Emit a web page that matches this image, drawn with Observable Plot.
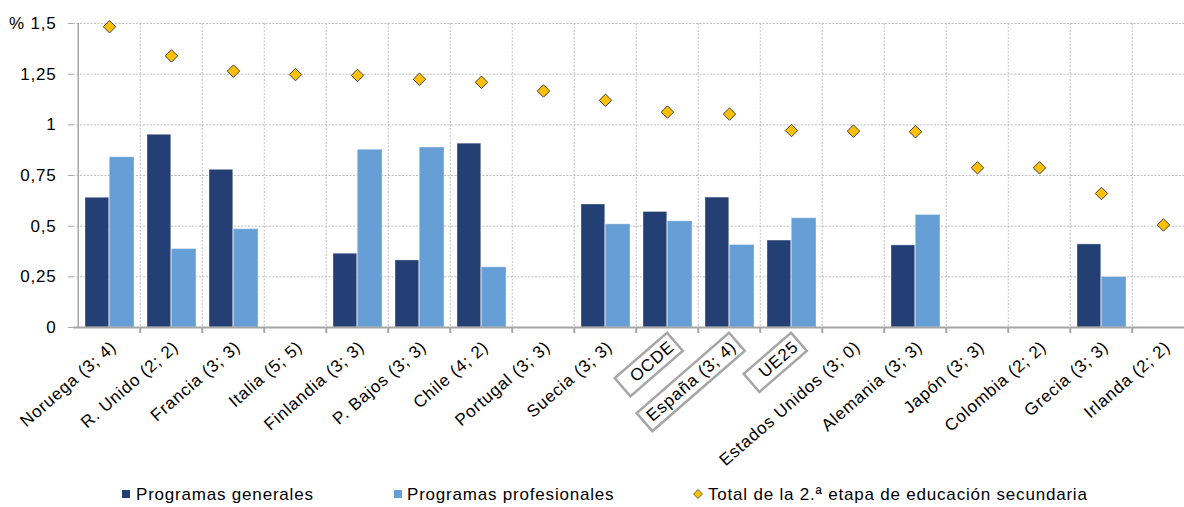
<!DOCTYPE html>
<html><head><meta charset="utf-8">
<script src="https://cdn.jsdelivr.net/npm/d3@7"></script>
<script src="https://cdn.jsdelivr.net/npm/@observablehq/plot@0.6"></script>
<style>
html,body{margin:0;padding:0;background:#fff;overflow:hidden;width:1184px;height:507px}
#legend{position:relative;height:27px;font-family:"Liberation Sans",Arial,sans-serif;font-size:17px;letter-spacing:0.8px;color:#000}
#legend .it{position:absolute;top:1px;line-height:27px;white-space:nowrap}
#legend .sw{position:absolute;top:10px;width:8px;height:8px}
</style></head><body><div id="chart"></div><div id="legend"></div>
<script>
const countries = ["Noruega (3; 4)", "R. Unido (2; 2)", "Francia (3; 3)", "Italia (5; 5)", "Finlandia (3; 3)", "P. Bajos (3; 3)", "Chile (4; 2)", "Portugal (3; 3)", "Suecia (3; 3)", "OCDE", "España (3; 4)", "UE25", "Estados Unidos (3; 0)", "Alemania (3; 3)", "Japón (3; 3)", "Colombia (2; 2)", "Grecia (3; 3)", "Irlanda (2; 2)"];
const general = [0.64, 0.951, 0.778, null, 0.364, 0.331, 0.907, null, 0.607, 0.570, 0.641, 0.429, null, 0.405, null, null, 0.410, null];
const profesional = [0.84, 0.387, 0.485, null, 0.877, 0.888, 0.297, null, 0.509, 0.524, 0.407, 0.539, null, 0.555, null, null, 0.249, null];
const total = [1.484, 1.34, 1.265, 1.248, 1.244, 1.225, 1.21, 1.167, 1.121, 1.063, 1.053, 0.972, 0.969, 0.966, 0.788, 0.788, 0.661, 0.506];
const yTicks = [0, 0.25, 0.5, 0.75, 1, 1.25, 1.5];
const seriesNames = ["Programas generales", "Programas profesionales", "Total de la 2.ª etapa de educación secundaria"];
const boxedLabels = ["OCDE", "España (3; 4)", "UE25"];

const colGeneral = "#243F74", colProf = "#659FD5", colTotal = "#FFC000", colTotalStroke = "#404040";
const gridColor = "#BFBFBF", axisColor = "#A6A6A6";

const rows = countries.map((c, i) => ({country: c, general: general[i], profesional: profesional[i], total: total[i]}));
const xRange = [73, 1198];
const bw = (xRange[1] - xRange[0]) / countries.length;

const chart = Plot.plot({
  width: 1184,
  height: 480,
  marginLeft: 73,
  marginRight: 0,
  marginTop: 23,
  marginBottom: 153,
  style: {fontFamily: '"Liberation Sans", Arial, sans-serif', fontSize: "17px", letterSpacing: "0.8px", background: "white", color: "#000"},
  x: {domain: countries, range: xRange, padding: 0, axis: null},
  y: {domain: [0, 1.5]},
  marks: [
    Plot.ruleY(yTicks.slice(1), {stroke: gridColor, strokeDasharray: "2,1.5", strokeWidth: 1}),
    Plot.ruleX(countries.slice(1), {x: d => d, dx: -bw / 2, stroke: gridColor, strokeDasharray: "2,1.5", strokeWidth: 1}),
    Plot.barY(rows.filter(d => d.general != null), {x: "country", y: "general", fill: colGeneral, insetLeft: 7, insetRight: bw / 2, stroke: "#ffffff", strokeOpacity: 0.35, strokeWidth: 1}),
    Plot.barY(rows.filter(d => d.profesional != null), {x: "country", y: "profesional", fill: colProf, insetLeft: bw / 2, insetRight: 6, stroke: "#ffffff", strokeOpacity: 0.35, strokeWidth: 1}),
    Plot.ruleX([countries[0]], {x: d => d, dx: -bw / 2, stroke: axisColor, strokeWidth: 1.5}),
    Plot.ruleX(countries.slice(1), {x: d => d, dx: -bw / 2, y1: 0, y2: 0, insetBottom: -6, stroke: axisColor, strokeWidth: 2}),
    Plot.ruleY([0], {stroke: axisColor, strokeWidth: 2}),
    Plot.axisY(yTicks, {tickFormat: d => d === 1.5 ? "% 1,5" : String(d).replace(".", ","), tickSize: 5, tickPadding: 12, stroke: axisColor, fill: "#000", fontSize: 17}),
    Plot.dot(rows, {x: "country", y: "total", symbol: "diamond2", r: 5.6, fill: colTotal, stroke: colTotalStroke, strokeWidth: 1}),
    Plot.text(countries, {x: d => d, frameAnchor: "bottom", textAnchor: "end", rotate: -41, dx: 8, dy: 21, fontSize: 17, fill: "#000"})
  ]
});
document.getElementById("chart").appendChild(chart);

// boxes around highlighted labels
chart.querySelectorAll("text").forEach(t => {
  const s = t.textContent;
  const tr = t.getAttribute("transform") || "";
  if (!boxedLabels.includes(s) || !tr.includes("rotate")) return;
  const bb = t.getBBox();
  const padStart = s.length < 6 ? 13 : 6, padEnd = 4, padY = 2.5;
  const r = document.createElementNS("http://www.w3.org/2000/svg", "rect");
  r.setAttribute("x", bb.x - padStart);
  r.setAttribute("y", bb.y - padY);
  r.setAttribute("width", bb.width + padStart + padEnd);
  r.setAttribute("height", bb.height + 2 * padY);
  r.setAttribute("fill", "white");
  r.setAttribute("stroke", axisColor);
  r.setAttribute("stroke-width", 2.5);
  r.setAttribute("transform", tr);
  t.parentNode.insertBefore(r, t);
});

// legend
const legend = document.getElementById("legend");
const legendItems = [
  {name: seriesNames[0], kind: "square", color: colGeneral, swLeft: 122, textLeft: 136},
  {name: seriesNames[1], kind: "square", color: colProf, swLeft: 394, textLeft: 407},
  {name: seriesNames[2], kind: "diamond", color: colTotal, swLeft: 692, textLeft: 708}
];
legendItems.forEach(it => {
  if (it.kind === "square") {
    const s = document.createElement("div");
    s.className = "sw";
    s.style.left = it.swLeft + "px";
    s.style.background = it.color;
    legend.appendChild(s);
  } else {
    const ns = "http://www.w3.org/2000/svg";
    const svg = document.createElementNS(ns, "svg");
    svg.setAttribute("width", 12); svg.setAttribute("height", 12);
    svg.style.position = "absolute"; svg.style.left = it.swLeft + "px"; svg.style.top = "8px";
    const p = document.createElementNS(ns, "path");
    p.setAttribute("d", "M6,1.5L10.5,6L6,10.5L1.5,6Z");
    p.setAttribute("fill", it.color); p.setAttribute("stroke", colTotalStroke); p.setAttribute("stroke-width", 0.8);
    svg.appendChild(p);
    legend.appendChild(svg);
  }
  const t = document.createElement("div");
  t.className = "it";
  t.style.left = it.textLeft + "px";
  t.textContent = it.name;
  legend.appendChild(t);
});
</script>
</body></html>
